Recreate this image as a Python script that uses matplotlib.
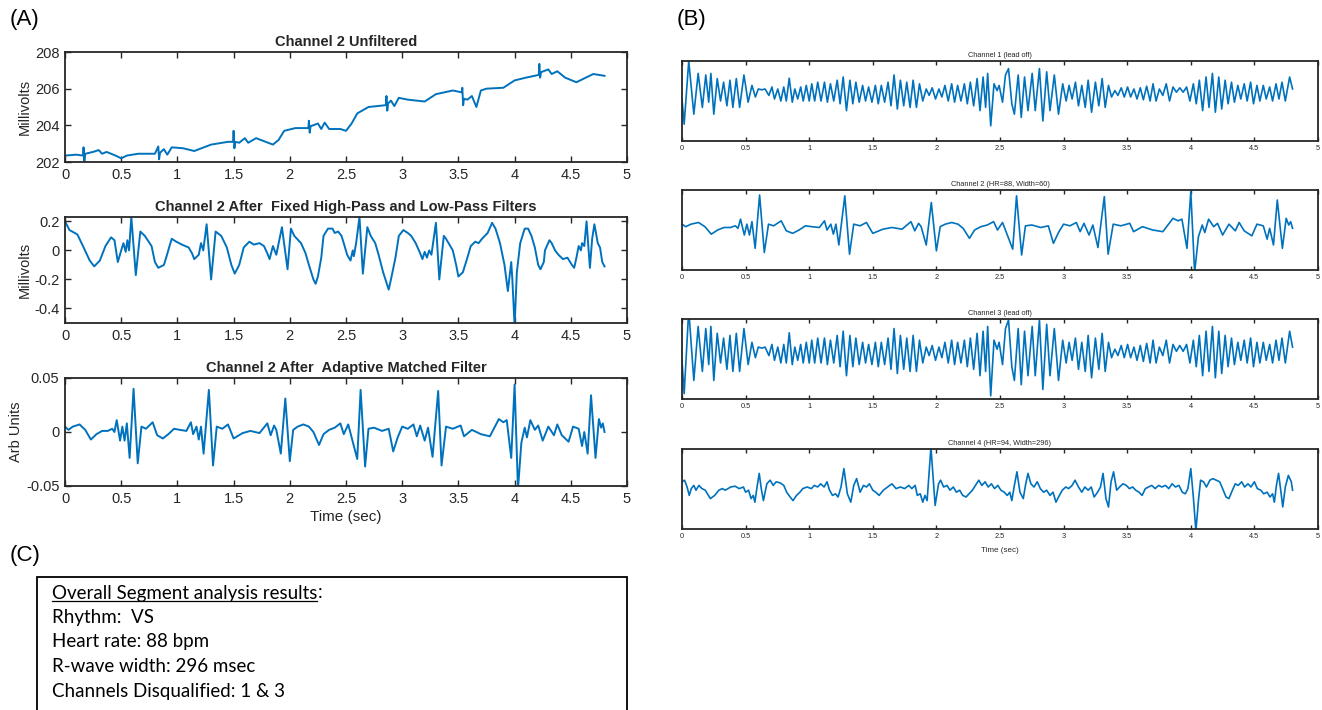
import matplotlib
matplotlib.use('Agg')
import matplotlib.pyplot as plt
from matplotlib.ticker import FormatStrFormatter
from matplotlib.lines import Line2D
from matplotlib.patches import Rectangle

plt.rcParams['font.family'] = ['Liberation Sans', 'DejaVu Sans']

# ---- panel A: channel 2 unfiltered (mV)
unf_t = [0, 0.1, 0.16, 0.165, 0.172, 0.18, 0.25, 0.3, 0.33, 0.37,
         0.45, 0.5, 0.55, 0.65, 0.8, 0.83, 0.837, 0.845, 0.88, 0.91,
         0.95, 1.05, 1.15, 1.3, 1.45, 1.495, 1.5, 1.507, 1.515, 1.55,
         1.6, 1.63, 1.7, 1.85, 1.9, 1.95, 2.05, 2.165, 2.17, 2.177,
         2.185, 2.25, 2.28, 2.31, 2.35, 2.45, 2.5, 2.55, 2.6, 2.7,
         2.855, 2.86, 2.867, 2.875, 2.9, 2.93, 2.97, 3.05, 3.2, 3.3,
         3.45, 3.53, 3.535, 3.542, 3.55, 3.58, 3.62, 3.66, 3.7, 3.75,
         3.9, 4.0, 4.1, 4.215, 4.22, 4.227, 4.235, 4.3, 4.33, 4.38,
         4.45, 4.55, 4.6, 4.7, 4.8]
unf_v = [202.35, 202.4, 202.35, 202.8, 202.05, 202.45, 202.55, 202.65, 202.45, 202.55,
         202.35, 202.2, 202.35, 202.45, 202.45, 202.85, 202.15, 202.5, 202.7, 202.4,
         202.8, 202.75, 202.6, 202.95, 203.1, 203.1, 203.7, 202.75, 203.1, 203.05,
         203.3, 203.05, 203.3, 202.95, 203.2, 203.7, 203.85, 203.85, 204.25, 203.6,
         203.95, 204.1, 203.8, 204.15, 203.8, 203.8, 203.7, 204.1, 204.65, 205.0,
         205.1, 205.6, 204.8, 205.2, 205.35, 205.05, 205.5, 205.4, 205.3, 205.7,
         205.9, 205.8, 206.05, 205.1, 205.45, 205.4, 205.6, 205.0, 205.9, 206.0,
         206.05, 206.45, 206.6, 206.75, 207.35, 206.6, 206.9, 207.05, 206.8, 206.95,
         206.6, 206.35, 206.5, 206.8, 206.7]

# ---- panel A: after fixed high-pass / low-pass filters (mV)
flt_t = [0, 0.04, 0.11, 0.16, 0.22, 0.26, 0.31, 0.36, 0.41, 0.44,
         0.47, 0.5, 0.52, 0.54, 0.555, 0.57, 0.59, 0.63, 0.67, 0.71,
         0.77, 0.8, 0.83, 0.88, 0.9, 0.93, 0.95, 0.99, 1.04, 1.1,
         1.13, 1.15, 1.19, 1.21, 1.23, 1.26, 1.3, 1.34, 1.39, 1.44,
         1.48, 1.51, 1.55, 1.59, 1.64, 1.68, 1.73, 1.77, 1.8, 1.82,
         1.85, 1.88, 1.93, 1.98, 2.01, 2.04, 2.1, 2.14, 2.17, 2.21,
         2.23, 2.25, 2.28, 2.3, 2.34, 2.38, 2.4, 2.43, 2.46, 2.48,
         2.51, 2.54, 2.56, 2.57, 2.59, 2.62, 2.65, 2.69, 2.72, 2.76,
         2.79, 2.83, 2.88, 2.9, 2.94, 2.97, 3.01, 3.05, 3.08, 3.12,
         3.16, 3.18, 3.2, 3.22, 3.24, 3.26, 3.3, 3.33, 3.37, 3.39,
         3.45, 3.48, 3.5, 3.54, 3.58, 3.61, 3.65, 3.68, 3.71, 3.76,
         3.8, 3.83, 3.87, 3.91, 3.94, 3.96, 3.97, 3.98, 4.0, 4.02,
         4.05, 4.09, 4.12, 4.15, 4.18, 4.21, 4.23, 4.26, 4.27, 4.31,
         4.33, 4.36, 4.39, 4.43, 4.47, 4.51, 4.53, 4.55, 4.57, 4.59,
         4.6, 4.62, 4.64, 4.67, 4.69, 4.71, 4.74, 4.76, 4.78, 4.8]
flt_v = [0.20, 0.14, 0.11, 0.03, -0.07, -0.11, -0.07, 0.03, 0.09, 0.07,
         -0.08, 0.0, 0.05, -0.01, 0.07, 0.0, 0.23, -0.17, 0.13, 0.10,
         0.03, -0.08, -0.12, -0.10, -0.05, 0.03, 0.08, 0.06, 0.04, 0.02,
         -0.02, -0.06, -0.03, 0.05, 0.0, 0.18, -0.20, 0.13, 0.10, 0.02,
         -0.10, -0.16, -0.10, 0.02, 0.06, 0.04, 0.05, 0.03, -0.02, -0.06,
         0.03, -0.03, 0.16, -0.13, 0.15, 0.10, 0.05, -0.02, -0.10, -0.20,
         -0.23, -0.18, -0.05, 0.10, 0.15, 0.15, 0.12, 0.13, 0.10, 0.05,
         -0.03, -0.07, 0.0, -0.04, 0.05, 0.23, -0.16, 0.16, 0.10, 0.05,
         -0.03, -0.15, -0.27, -0.20, -0.05, 0.10, 0.14, 0.12, 0.10, 0.05,
         -0.02, -0.06, -0.01, -0.05, 0.0, -0.03, 0.19, -0.20, 0.10, 0.08,
         0.0, -0.10, -0.18, -0.15, -0.05, 0.03, 0.06, 0.05, 0.08, 0.12,
         0.19, 0.15, 0.05, -0.10, -0.28, -0.15, -0.08, -0.20, -0.52, -0.15,
         0.05, 0.15, 0.15, 0.10, 0.02, -0.10, -0.13, -0.08, 0.0, 0.07,
         0.05, 0.0, -0.03, -0.06, -0.05, -0.10, -0.12, -0.05, 0.03, 0.0,
         0.05, 0.03, 0.20, -0.12, 0.08, 0.18, 0.05, 0.02, -0.08, -0.11]

# ---- panel A: after adaptive matched filter (arb units); also channel 2 in panel B
mf_t = [0, 0.03, 0.07, 0.13, 0.18, 0.23, 0.28, 0.33, 0.38, 0.42,
        0.44, 0.46, 0.49, 0.51, 0.53, 0.55, 0.575, 0.61, 0.647, 0.68,
        0.72, 0.78, 0.82, 0.87, 0.92, 0.97, 1.02, 1.08, 1.12, 1.14,
        1.17, 1.19, 1.21, 1.233, 1.28, 1.317, 1.35, 1.40, 1.45, 1.5,
        1.58, 1.65, 1.73, 1.8, 1.83, 1.86, 1.88, 1.92, 1.96, 2.0,
        2.03, 2.07, 2.12, 2.17, 2.21, 2.26, 2.3, 2.35, 2.4, 2.45,
        2.48, 2.52, 2.55, 2.6, 2.63, 2.67, 2.7, 2.75, 2.82, 2.88,
        2.92, 2.96, 3.0, 3.05, 3.1, 3.13, 3.16, 3.2, 3.23, 3.27,
        3.32, 3.35, 3.39, 3.45, 3.52, 3.55, 3.62, 3.7, 3.78, 3.86,
        3.9, 3.93, 3.97, 4.0, 4.03, 4.06, 4.09, 4.11, 4.14, 4.18,
        4.21, 4.25, 4.3, 4.35, 4.38, 4.42, 4.48, 4.52, 4.57, 4.6,
        4.62, 4.65, 4.68, 4.72, 4.75, 4.77, 4.785, 4.8]
mf_v = [0.005, 0.002, 0.005, 0.007, 0.002, -0.007, -0.002, 0.001, 0.001, 0.003,
        0.0, 0.011, -0.008, 0.005, -0.008, 0.008, -0.024, 0.040, -0.029, 0.005,
        0.003, 0.009, -0.003, -0.006, -0.002, 0.003, 0.002, 0.001, 0.009, -0.002,
        0.005, -0.007, 0.005, -0.020, 0.039, -0.031, 0.005, 0.003, 0.007, -0.006,
        -0.001, 0.001, -0.001, 0.008, -0.003, 0.006, 0.002, -0.020, 0.031, -0.027,
        0.002, 0.005, 0.007, 0.005, 0.0, -0.012, -0.002, 0.002, 0.004, 0.008,
        -0.002, 0.007, -0.005, -0.025, 0.039, -0.032, 0.003, 0.004, 0.001, 0.003,
        -0.018, -0.005, 0.005, 0.003, 0.007, -0.004, 0.006, -0.008, 0.004, -0.023,
        0.038, -0.031, 0.005, 0.003, 0.006, -0.004, 0.002, -0.002, -0.004, 0.012,
        0.009, 0.011, -0.024, 0.044, -0.053, -0.010, 0.004, -0.005, 0.011, 0.002,
        0.006, -0.008, 0.005, -0.003, 0.007, -0.003, -0.009, 0.005, 0.003, -0.013,
        0.0, -0.020, 0.034, -0.024, 0.012, 0.004, 0.008, 0.0]

# ---- panel B: channel 1 (lead off), normalised units; channel 3 looks the same
b1_t = [0, 0.017, 0.053, 0.093, 0.127, 0.16, 0.187, 0.21, 0.227, 0.25,
        0.277, 0.303, 0.327, 0.353, 0.377, 0.4, 0.427, 0.453, 0.487, 0.52,
        0.55, 0.577, 0.6, 0.627, 0.653, 0.683, 0.707, 0.727, 0.753, 0.777,
        0.8, 0.82, 0.843, 0.867, 0.887, 0.91, 0.933, 0.953, 0.977, 1.0,
        1.02, 1.043, 1.067, 1.093, 1.12, 1.143, 1.167, 1.193, 1.22, 1.243,
        1.267, 1.293, 1.32, 1.343, 1.367, 1.393, 1.42, 1.443, 1.467, 1.493,
        1.52, 1.543, 1.567, 1.593, 1.62, 1.643, 1.667, 1.693, 1.717, 1.743,
        1.767, 1.793, 1.817, 1.843, 1.867, 1.893, 1.92, 1.943, 1.967, 1.993,
        2.02, 2.043, 2.067, 2.093, 2.12, 2.143, 2.167, 2.193, 2.22, 2.243,
        2.267, 2.293, 2.32, 2.343, 2.367, 2.387, 2.403, 2.427, 2.453, 2.477,
        2.493, 2.52, 2.543, 2.567, 2.593, 2.613, 2.643, 2.667, 2.693, 2.72,
        2.753, 2.777, 2.81, 2.837, 2.867, 2.893, 2.927, 2.96, 2.993, 3.02,
        3.043, 3.067, 3.093, 3.117, 3.143, 3.17, 3.193, 3.22, 3.25, 3.277,
        3.303, 3.327, 3.353, 3.377, 3.403, 3.427, 3.453, 3.477, 3.503, 3.527,
        3.553, 3.577, 3.603, 3.627, 3.653, 3.68, 3.703, 3.727, 3.753, 3.78,
        3.807, 3.833, 3.86, 3.887, 3.913, 3.94, 3.967, 3.993, 4.02, 4.043,
        4.067, 4.093, 4.12, 4.143, 4.17, 4.193, 4.22, 4.243, 4.27, 4.293,
        4.32, 4.343, 4.37, 4.393, 4.42, 4.443, 4.47, 4.493, 4.52, 4.543,
        4.57, 4.593, 4.62, 4.643, 4.67, 4.693, 4.717, 4.743, 4.777, 4.8]
b1_v = [0.05, -0.58, 1.0, -0.33, 0.69, -0.16, 0.65, -0.03, 0.69, -0.33,
        0.56, 0.0, 0.47, -0.12, 0.52, -0.16, 0.56, -0.16, 0.65, -0.03,
        0.39, 0.1, 0.3, 0.28, 0.3, 0.14, 0.35, 0.05, 0.3, 0.0,
        0.35, 0.0, 0.57, -0.03, 0.3, 0.05, 0.35, 0.0, 0.39, 0.0,
        0.43, 0.0, 0.47, 0.0, 0.47, -0.03, 0.43, 0.0, 0.52, -0.07,
        0.6, -0.24, 0.52, -0.07, 0.47, -0.03, 0.39, 0.0, 0.35, -0.03,
        0.39, -0.07, 0.39, -0.03, 0.47, -0.12, 0.65, -0.2, 0.52, -0.12,
        0.47, -0.16, 0.52, -0.16, 0.43, 0.0, 0.3, 0.14, 0.33, 0.05,
        0.3, 0.1, 0.39, 0.0, 0.43, -0.03, 0.39, 0.0, 0.43, -0.07,
        0.47, -0.12, 0.56, -0.24, 0.6, -0.16, 0.69, -0.62, 0.43, 0.26,
        0.39, -0.03, 0.65, 0.81, -0.07, -0.33, 0.65, -0.41, 0.6, -0.24,
        0.69, -0.24, 0.81, -0.5, 0.73, -0.24, 0.65, -0.33, 0.43, 0.0,
        0.39, 0.05, 0.47, -0.12, 0.39, -0.16, 0.52, -0.28, 0.47, -0.12,
        0.56, -0.16, 0.39, 0.1, 0.26, 0.14, 0.33, 0.1, 0.35, 0.1,
        0.3, 0.05, 0.33, 0.03, 0.37, 0.0, 0.43, 0.0, 0.3, 0.14,
        0.43, 0.0, 0.35, 0.22, 0.33, 0.22, 0.35, 0.0, 0.43, -0.07,
        0.52, -0.24, 0.6, -0.16, 0.69, -0.28, 0.6, -0.2, 0.52, -0.07,
        0.47, -0.03, 0.39, 0.05, 0.43, 0.0, 0.47, -0.07, 0.39, 0.0,
        0.39, 0.05, 0.35, 0.0, 0.43, 0.05, 0.47, 0.0, 0.6, 0.3]

# ---- panel B: channel 4, normalised units
b4_t = [0, 0.02, 0.04, 0.057, 0.073, 0.093, 0.11, 0.133, 0.157, 0.183,
        0.223, 0.257, 0.29, 0.317, 0.34, 0.383, 0.417, 0.45, 0.483, 0.5,
        0.523, 0.543, 0.56, 0.573, 0.59, 0.607, 0.623, 0.64, 0.667, 0.693,
        0.717, 0.74, 0.773, 0.8, 0.823, 0.85, 0.873, 0.9, 0.927, 0.95,
        0.983, 1.017, 1.04, 1.067, 1.09, 1.117, 1.14, 1.16, 1.183, 1.207,
        1.227, 1.25, 1.273, 1.3, 1.327, 1.35, 1.373, 1.4, 1.427, 1.45,
        1.473, 1.5, 1.523, 1.55, 1.583, 1.617, 1.65, 1.683, 1.717, 1.75,
        1.783, 1.807, 1.833, 1.85, 1.873, 1.893, 1.91, 1.927, 1.957, 1.99,
        2.017, 2.033, 2.057, 2.083, 2.107, 2.133, 2.157, 2.183, 2.207, 2.233,
        2.257, 2.283, 2.307, 2.333, 2.357, 2.383, 2.407, 2.433, 2.457, 2.483,
        2.507, 2.533, 2.557, 2.577, 2.593, 2.613, 2.633, 2.657, 2.683, 2.7,
        2.72, 2.743, 2.767, 2.793, 2.817, 2.843, 2.867, 2.893, 2.917, 2.94,
        2.967, 2.99, 3.017, 3.04, 3.067, 3.09, 3.117, 3.143, 3.167, 3.193,
        3.217, 3.24, 3.267, 3.29, 3.31, 3.333, 3.353, 3.373, 3.393, 3.417,
        3.44, 3.467, 3.493, 3.517, 3.543, 3.567, 3.593, 3.617, 3.643, 3.667,
        3.693, 3.72, 3.747, 3.773, 3.8, 3.827, 3.853, 3.88, 3.907, 3.933,
        3.957, 3.977, 4.0, 4.02, 4.04, 4.06, 4.077, 4.1, 4.123, 4.15,
        4.173, 4.2, 4.227, 4.25, 4.277, 4.3, 4.327, 4.35, 4.373, 4.4,
        4.423, 4.45, 4.473, 4.5, 4.523, 4.55, 4.573, 4.6, 4.623, 4.643,
        4.657, 4.673, 4.69, 4.707, 4.723, 4.743, 4.767, 4.79, 4.8]
b4_v = [0.18, 0.22, 0.05, -0.16, 0.01, 0.09, -0.03, 0.09, 0.01, -0.03,
        -0.24, -0.16, -0.03, 0.01, -0.03, 0.05, 0.07, 0.01, 0.05, -0.08,
        -0.03, -0.24, -0.16, -0.33, 0.05, 0.39, 0.01, -0.29, 0.13, 0.22,
        0.09, 0.18, 0.15, 0.09, -0.08, -0.2, -0.29, -0.16, -0.08, 0.01,
        0.05, 0.01, 0.09, 0.05, 0.13, 0.05, 0.18, -0.03, -0.16, -0.12,
        -0.2, 0.05, 0.51, -0.12, -0.33, 0.09, 0.26, -0.08, 0.09, 0.05,
        0.13, -0.03, -0.08, -0.16, -0.03, 0.05, 0.13, 0.01, 0.05, 0.01,
        0.09, 0.01, 0.09, -0.16, -0.12, -0.33, -0.16, -0.29, 1.05, -0.41,
        0.13, 0.22, 0.05, 0.09, -0.03, 0.05, -0.08, -0.03, -0.16, -0.2,
        -0.12, -0.03, 0.09, 0.22, 0.09, 0.18, 0.05, 0.13, 0.01, 0.09,
        -0.03, -0.08, -0.16, -0.08, -0.29, 0.09, 0.43, -0.08, -0.24, 0.09,
        0.39, 0.13, 0.05, 0.18, 0.01, -0.08, -0.03, -0.16, -0.08, -0.33,
        -0.16, -0.03, 0.05, 0.01, 0.09, 0.22, 0.05, -0.08, 0.05, -0.03,
        0.05, -0.2, -0.08, 0.05, 0.39, -0.24, -0.45, 0.18, 0.43, -0.03,
        0.05, 0.13, 0.09, 0.01, 0.05, -0.03, -0.08, -0.16, 0.01, 0.05,
        0.09, 0.01, 0.09, 0.05, 0.09, 0.01, 0.13, 0.05, 0.09, -0.08,
        -0.12, 0.01, 0.51, -0.2, -1.05, -0.29, 0.22, 0.18, 0.05, 0.22,
        0.26, 0.22, 0.18, 0.01, -0.2, -0.24, -0.03, 0.13, 0.09, 0.18,
        0.05, 0.13, 0.05, 0.18, 0.01, -0.03, -0.12, -0.08, -0.2, -0.12,
        -0.33, 0.09, 0.39, -0.03, -0.45, 0.05, 0.34, 0.18, -0.03]

xticks = [0, 0.5, 1, 1.5, 2, 2.5, 3, 3.5, 4, 4.5, 5]
results = ['Rhythm:  VS', 'Heart rate: 88 bpm', 'R-wave width: 296 msec',
           'Channels Disqualified: 1 & 3']

W, H = 1322, 710
LINE = '#0072BD'
DARK = '#262626'
CFONT = ['Lato', 'DejaVu Sans']


def px(l, t, r, b):
    return [l / W, 1 - b / H, (r - l) / W, (b - t) / H]


def style(ax, fs, pad=4):
    ax.set_xlim(0, 5)
    ax.set_xticks(xticks)
    ax.xaxis.set_major_formatter(FormatStrFormatter('%g'))
    ax.tick_params(direction='in', top=True, right=True, length=4, width=1,
                   color=DARK, labelcolor=DARK, labelsize=fs, pad=pad)
    for s in ax.spines.values():
        s.set_linewidth(1.3)
        s.set_color(DARK)


fig = plt.figure(figsize=(W / 100, H / 100), dpi=100)

# ---- (A)
a1 = fig.add_axes(px(65, 52, 627, 162))
a1.plot(unf_t, unf_v, color=LINE, lw=1.4)
style(a1, 10.5)
a1.set_ylim(202, 208)
a1.set_yticks([202, 204, 206, 208])
a1.set_ylabel('Millivolts', fontsize=10.5, color=DARK, labelpad=2)
a1.set_title('Channel 2 Unfiltered', fontsize=10.5, fontweight='bold', color=DARK, pad=4)

a2 = fig.add_axes(px(65, 217, 627, 323))
a2.plot(flt_t, flt_v, color=LINE, lw=1.4)
style(a2, 10.5)
a2.set_ylim(-0.5, 0.23)
a2.set_yticks([-0.4, -0.2, 0, 0.2])
a2.yaxis.set_major_formatter(FormatStrFormatter('%g'))
a2.set_ylabel('Millivolts', fontsize=10.5, color=DARK, labelpad=2)
a2.set_title('Channel 2 After  Fixed High-Pass and Low-Pass Filters',
             fontsize=10.5, fontweight='bold', color=DARK, pad=4)

a3 = fig.add_axes(px(65, 378, 627, 486))
a3.plot(mf_t, mf_v, color=LINE, lw=1.4)
style(a3, 10.5)
a3.set_ylim(-0.05, 0.05)
a3.set_yticks([-0.05, 0, 0.05])
a3.yaxis.set_major_formatter(FormatStrFormatter('%g'))
a3.set_ylabel('Arb Units', fontsize=10.5, color=DARK, labelpad=2)
a3.set_xlabel('Time (sec)', fontsize=11, color=DARK, labelpad=3)
a3.set_title('Channel 2 After  Adaptive Matched Filter',
             fontsize=10.5, fontweight='bold', color=DARK, pad=4)

# ---- (B)
b_specs = [
    (61, 141, b1_t, b1_v, (-1, 1), 'Channel 1 (lead off)'),
    (190, 270, mf_t, mf_v, (-0.05, 0.046), 'Channel 2 (HR=88, Width=60)'),
    (319, 399, b1_t, b1_v, (-0.68, 0.83), 'Channel 3 (lead off)'),
    (449, 529, b4_t, b4_v, (-1, 1), 'Channel 4 (HR=94, Width=296)'),
]
for top, bot, tt, vv, yl, title in b_specs:
    ax = fig.add_axes(px(682, top, 1318, bot))
    ax.plot(tt, vv, color=LINE, lw=1.2)
    style(ax, 5.3, pad=3)
    ax.tick_params(length=3)
    ax.set_ylim(*yl)
    ax.set_yticks([])
    ax.set_title(title, fontsize=5.3, color=DARK, pad=3)
ax.set_xlabel('Time (sec)', fontsize=5.8, color=DARK, labelpad=5)

# ---- panel letters
fig.text(10 / W, 1 - 20 / H, '(A)', fontsize=16, va='center', color='black')
fig.text(677 / W, 1 - 20 / H, '(B)', fontsize=16, va='center', color='black')
fig.text(10 / W, 1 - 555 / H, '(C)', fontsize=16, va='center', color='black')

# ---- (C) results box
fig.patches.append(Rectangle((37 / W, -0.1), (627 - 37) / W, 0.1 + (1 - 577 / H),
                             transform=fig.transFigure, fill=False,
                             edgecolor='black', lw=1.3, clip_on=False))
head = fig.text(52 / W, 1 - 593 / H, 'Overall Segment analysis results',
                fontsize=13.5, family=CFONT, va='center', color='black')
rend = fig.canvas.get_renderer()
bb = head.get_window_extent(rend)
fig.lines.append(Line2D([bb.x0 / W, bb.x1 / W], [(bb.y0 + 1) / H, (bb.y0 + 1) / H],
                        transform=fig.transFigure, color='black', lw=0.9))
fig.text(bb.x1 / W, 1 - 593 / H, ':', fontsize=13.5, family=CFONT,
         va='center', color='black')
for i, line in enumerate(results):
    fig.text(52 / W, 1 - (617 + 25 * i) / H, line, fontsize=13.5,
             family=CFONT, va='center', color='black')

fig.savefig('out.png', dpi=100)
